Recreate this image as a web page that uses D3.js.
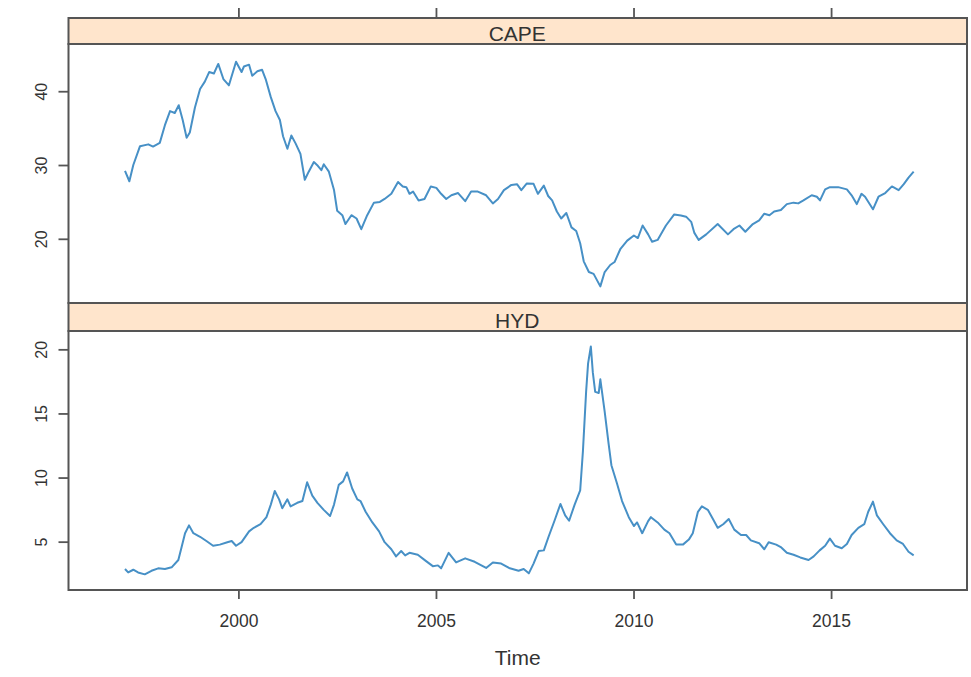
<!DOCTYPE html>
<html>
<head>
<meta charset="utf-8">
<script src="https://cdn.jsdelivr.net/npm/d3@7"></script>
<style>
  html, body { margin: 0; padding: 0; background: #ffffff; }
  svg { display: block; }
  text { font-family: "Liberation Sans", Arial, sans-serif; fill: #333; }
</style>
</head>
<body>
<svg id="chart" width="971" height="677"></svg>
<script>
// ---------- data ----------
const panelNames = ["CAPE", "HYD"];
const xTickValues = [2000, 2005, 2010, 2015];
const capeTicks = [20, 30, 40];
const hydTicks = [5, 10, 15, 20];

const capeYears = [1997.13,1997.24,1997.34,1997.51,1997.72,1997.84,1998.01,1998.14,1998.27,1998.39,1998.49,1998.59,1998.69,1998.77,1998.90,1999.03,1999.15,1999.26,1999.38,1999.49,1999.62,1999.76,1999.94,2000.08,2000.14,2000.27,2000.35,2000.48,2000.60,2000.69,2000.82,2000.94,2001.05,2001.13,2001.24,2001.34,2001.45,2001.57,2001.68,2001.78,2001.91,2002.01,2002.10,2002.16,2002.29,2002.42,2002.50,2002.63,2002.71,2002.86,2002.99,2003.11,2003.26,2003.43,2003.58,2003.70,2003.87,2004.04,2004.16,2004.25,2004.33,2004.42,2004.56,2004.71,2004.87,2005.01,2005.13,2005.26,2005.39,2005.56,2005.74,2005.89,2006.06,2006.27,2006.44,2006.57,2006.72,2006.91,2007.05,2007.16,2007.30,2007.47,2007.58,2007.73,2007.84,2007.94,2008.06,2008.17,2008.30,2008.43,2008.55,2008.65,2008.74,2008.87,2008.99,2009.16,2009.27,2009.41,2009.52,2009.67,2009.84,2010.01,2010.11,2010.23,2010.37,2010.47,2010.61,2010.82,2011.03,2011.20,2011.33,2011.46,2011.54,2011.65,2011.84,2012.13,2012.39,2012.53,2012.68,2012.83,2013.02,2013.18,2013.31,2013.44,2013.56,2013.73,2013.88,2014.05,2014.17,2014.30,2014.51,2014.64,2014.72,2014.85,2014.97,2015.18,2015.40,2015.52,2015.65,2015.77,2015.86,2016.06,2016.20,2016.37,2016.54,2016.71,2016.84,2016.96,2017.09];
const capeValues = [29.2,27.8,30.0,32.55,32.8,32.5,33.0,35.4,37.3,37.05,38.1,36.1,33.7,34.4,37.8,40.3,41.3,42.6,42.4,43.7,41.65,40.8,44.0,42.6,43.35,43.6,42.1,42.7,42.9,41.65,39.2,37.3,36.1,33.9,32.2,34.0,32.9,31.5,28.0,29.1,30.4,29.9,29.3,30.1,29.1,26.6,23.8,23.2,22.0,23.2,22.75,21.3,23.2,24.9,25.0,25.4,26.1,27.7,27.1,27.0,26.1,26.4,25.2,25.4,27.1,26.9,26.1,25.4,25.9,26.2,25.1,26.4,26.4,25.9,24.8,25.4,26.6,27.3,27.4,26.6,27.5,27.45,26.1,27.2,25.8,25.2,23.7,22.75,23.5,21.55,21.05,19.4,16.95,15.5,15.25,13.55,15.5,16.45,16.85,18.65,19.75,20.45,20.1,21.8,20.6,19.6,19.85,21.8,23.3,23.15,23.0,22.3,20.8,19.85,20.6,22.0,20.6,21.3,21.8,20.95,22.0,22.5,23.4,23.2,23.7,23.9,24.7,24.9,24.8,25.2,25.9,25.7,25.2,26.7,27.0,27.0,26.7,25.9,24.7,26.1,25.7,24.0,25.7,26.2,27.1,26.6,27.4,28.3,29.1];

const hydYears = [1997.13,1997.21,1997.34,1997.46,1997.63,1997.80,1997.97,1998.14,1998.31,1998.48,1998.56,1998.65,1998.75,1998.86,1999.03,1999.19,1999.36,1999.53,1999.72,1999.83,1999.94,2000.08,2000.27,2000.39,2000.56,2000.71,2000.82,2000.92,2001.03,2001.11,2001.24,2001.32,2001.49,2001.62,2001.74,2001.87,2002.00,2002.16,2002.32,2002.42,2002.54,2002.65,2002.75,2002.88,2003.01,2003.09,2003.22,2003.39,2003.56,2003.70,2003.87,2003.99,2004.12,2004.22,2004.33,2004.54,2004.75,2004.92,2005.05,2005.13,2005.32,2005.51,2005.74,2005.98,2006.27,2006.44,2006.65,2006.87,2007.09,2007.22,2007.35,2007.47,2007.60,2007.73,2007.85,2008.00,2008.15,2008.27,2008.37,2008.51,2008.65,2008.72,2008.80,2008.85,2008.92,2008.97,2009.03,2009.12,2009.16,2009.27,2009.37,2009.44,2009.58,2009.71,2009.88,2010.01,2010.09,2010.22,2010.37,2010.44,2010.61,2010.78,2010.91,2011.08,2011.25,2011.40,2011.50,2011.63,2011.73,2011.88,2012.01,2012.13,2012.27,2012.41,2012.55,2012.72,2012.85,2012.97,2013.18,2013.31,2013.42,2013.61,2013.74,2013.88,2014.05,2014.22,2014.43,2014.56,2014.71,2014.85,2014.97,2015.10,2015.27,2015.40,2015.52,2015.69,2015.84,2015.94,2016.06,2016.16,2016.32,2016.49,2016.66,2016.82,2016.96,2017.09];
const hydValues = [2.87,2.6,2.81,2.6,2.45,2.73,2.92,2.87,3.0,3.57,4.55,5.66,6.27,5.66,5.38,5.05,4.68,4.77,4.96,5.05,4.68,4.96,5.8,6.08,6.36,6.91,7.89,8.95,8.3,7.61,8.3,7.75,8.03,8.17,9.63,8.59,8.03,7.48,7.0,7.89,9.43,9.7,10.4,9.15,8.3,8.17,7.33,6.5,5.8,4.96,4.41,3.85,4.27,3.93,4.13,3.98,3.48,3.09,3.15,2.92,4.13,3.38,3.7,3.43,2.95,3.38,3.29,2.92,2.73,2.87,2.53,3.29,4.27,4.32,5.38,6.63,7.94,7.05,6.63,7.89,9.0,12.08,16.68,18.91,20.22,18.2,16.68,16.6,17.66,15.15,12.63,10.96,9.56,8.17,6.91,6.22,6.5,5.66,6.6,6.91,6.5,5.94,5.66,4.77,4.77,5.16,5.66,7.33,7.75,7.48,6.77,6.08,6.36,6.77,5.94,5.52,5.52,5.1,4.88,4.41,4.96,4.77,4.55,4.13,3.98,3.77,3.57,3.85,4.32,4.68,5.24,4.68,4.49,4.82,5.52,6.08,6.36,7.33,8.12,7.05,6.36,5.66,5.1,4.82,4.21,3.93];

// ---------- layout ----------
const L = 68.5, R = 967;
const stripH = [ [18, 44], [303, 331] ];
const panelY = [ [44, 303], [331, 590] ];
const lineColor = "#4790c6";
const frameColor = "#555555";
const stripFill = "#ffe5cc";

const svg = d3.select("#chart");

const x = d3.scaleLinear().domain([1995.70, 2018.44]).range([L, R]);
const yCape = d3.scaleLinear().domain([11.3, 46.4]).range([panelY[0][1], panelY[0][0]]);
const yHyd = d3.scaleLinear().domain([1.23, 21.43]).range([panelY[1][1], panelY[1][0]]);

const panels = [
  { name: panelNames[0], years: capeYears, values: capeValues, y: yCape, ticks: capeTicks },
  { name: panelNames[1], years: hydYears, values: hydValues, y: yHyd, ticks: hydTicks }
];

const defs = svg.append("defs");

panels.forEach((p, i) => {
  const [pt, pb] = panelY[i];
  const [st, sb] = stripH[i];

  svg.append("rect").attr("x", L).attr("y", pt).attr("width", R - L).attr("height", pb - pt)
    .attr("fill", "#ffffff");

  defs.append("clipPath").attr("id", "clip" + i)
    .append("rect").attr("x", L).attr("y", pt).attr("width", R - L).attr("height", pb - pt);

  const pts = p.years.map((yr, k) => [yr, p.values[k]]);
  const line = d3.line().x(d => x(d[0])).y(d => p.y(d[1]));
  svg.append("path").datum(pts)
    .attr("clip-path", `url(#clip${i})`)
    .attr("d", line)
    .attr("fill", "none")
    .attr("stroke", lineColor)
    .attr("stroke-width", 2)
    .attr("stroke-linejoin", "round");

  svg.append("rect").attr("x", L).attr("y", st).attr("width", R - L).attr("height", sb - st)
    .attr("fill", stripFill).attr("stroke", frameColor).attr("stroke-width", 2);
  svg.append("text").attr("x", (L + R) / 2 - 0.5).attr("y", sb - 3.5)
    .attr("text-anchor", "middle").attr("font-size", 21).text(p.name);

  svg.append("rect").attr("x", L).attr("y", pt).attr("width", R - L).attr("height", pb - pt)
    .attr("fill", "none").attr("stroke", frameColor).attr("stroke-width", 2);

  const ax = svg.append("g").attr("transform", `translate(${L},0)`)
    .call(d3.axisLeft(p.y).tickValues(p.ticks).tickSize(10).tickSizeOuter(0).tickFormat(d3.format("d")));
  ax.select(".domain").remove();
  ax.selectAll(".tick line").attr("stroke", frameColor).attr("stroke-width", 1.8);
  ax.selectAll(".tick text")
    .attr("transform", "rotate(-90)")
    .attr("x", 0).attr("y", -21.5).attr("dy", 0)
    .attr("text-anchor", "middle")
    .attr("font-size", 16)
    .attr("font-family", '"Liberation Sans", Arial, sans-serif')
    .attr("fill", "#333");
});

const bx = svg.append("g").attr("transform", `translate(0,${panelY[1][1]})`)
  .call(d3.axisBottom(x).tickValues(xTickValues).tickSize(9).tickSizeOuter(0).tickFormat(d3.format("d")));
bx.select(".domain").remove();
bx.selectAll(".tick line").attr("stroke", frameColor).attr("stroke-width", 1.8);
bx.selectAll(".tick text").attr("y", 37).attr("dy", 0)
  .attr("font-size", 17.5)
  .attr("font-family", '"Liberation Sans", Arial, sans-serif')
  .attr("fill", "#333");

const tx = svg.append("g").attr("transform", `translate(0,${stripH[0][0]})`)
  .call(d3.axisTop(x).tickValues(xTickValues).tickSize(10).tickSizeOuter(0).tickFormat(""));
tx.select(".domain").remove();
tx.selectAll(".tick line").attr("stroke", frameColor).attr("stroke-width", 1.8);

svg.append("text").attr("x", (L + R) / 2).attr("y", 665)
  .attr("text-anchor", "middle").attr("font-size", 21).text("Time");
</script>
</body>
</html>
